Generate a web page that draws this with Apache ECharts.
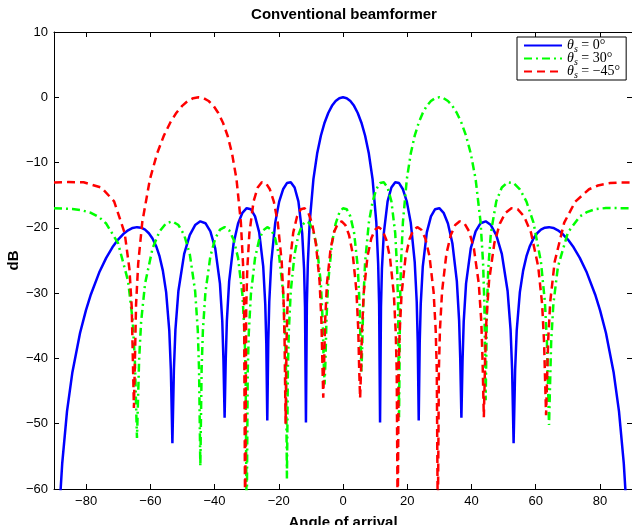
<!DOCTYPE html>
<html>
<head>
<meta charset="utf-8">
<title>Conventional beamformer</title>
<script src="https://cdn.jsdelivr.net/npm/echarts@6/dist/echarts.min.js"></script>
<style>
  html, body { margin: 0; padding: 0; background: #fff; }
  #main { width: 632px; height: 525px; }
</style>
</head>
<body>
<div id="main"></div>
<script>
// tick values
var xTicks = [-80, -60, -40, -20, 0, 20, 40, 60, 80];

// series names (legend)
var seriesNames = ['θs = 0°', 'θs = 30°', 'θs = −45°'];

// [angle (deg), level (dB)]
var steer0 = [
    [-89.00, -72], [-88.19, -62.1], [-87.44, -56.08], [-85.95, -48.12], [-84.27, -42.11], [-81.89, -36.11],
    [-80.06, -32.63], [-78.52, -30.20], [-75.93, -26.85], [-73.74, -24.60], [-71.81, -22.98], [-70.05, -21.80],
    [-68.43, -20.95], [-66.93, -20.37], [-65.51, -20.02], [-64.16, -19.89], [-62.87, -19.98], [-61.64, -20.28],
    [-60.46, -20.82], [-59.32, -21.63], [-58.21, -22.77], [-57.14, -24.34], [-56.10, -26.55], [-55.08, -29.85],
    [-54.10, -35.72], [-53.61, -41.69], [-53.13, -53.0], [-52.66, -41.65], [-52.19, -35.63], [-51.26, -29.67],
    [-49.46, -23.98], [-47.73, -21.10], [-46.05, -19.57], [-44.43, -19.00], [-42.84, -19.29], [-41.30, -20.54],
    [-39.79, -23.15], [-38.32, -28.55], [-37.59, -34.37], [-37.23, -40.31], [-36.87, -49.1], [-36.52, -40.22],
    [-36.16, -34.17], [-35.45, -28.15], [-34.06, -22.35], [-32.68, -19.34], [-31.33, -17.69], [-30.00, -16.99],
    [-28.69, -17.14], [-27.39, -18.25], [-26.10, -20.70], [-24.84, -25.95], [-24.21, -31.68], [-23.89, -37.58],
    [-23.58, -49.5], [-23.27, -37.40], [-22.96, -31.31], [-22.33, -25.20], [-21.10, -19.20], [-19.88, -15.98],
    [-18.66, -14.09], [-17.46, -13.14], [-16.26, -13.02], [-15.07, -13.82], [-13.89, -15.94], [-12.71, -20.80],
    [-12.12, -26.32], [-11.83, -32.11], [-11.54, -49.8], [-11.25, -31.69], [-10.95, -25.48], [-10.37, -19.11],
    [-9.21, -12.53], [-8.05, -8.62], [-6.89, -5.89], [-5.74, -3.89], [-4.59, -2.40], [-3.44, -1.31],
    [-2.29, -0.57], [-1.15, -0.14], [0, 0], [1.15, -0.14], [2.29, -0.57], [3.44, -1.31],
    [4.59, -2.40], [5.74, -3.89], [6.89, -5.89], [8.05, -8.62], [9.21, -12.53], [10.37, -19.11],
    [10.95, -25.48], [11.25, -31.69], [11.54, -49.8], [11.83, -32.11], [12.12, -26.32], [12.71, -20.80],
    [13.89, -15.94], [15.07, -13.82], [16.26, -13.02], [17.46, -13.14], [18.66, -14.09], [19.88, -15.98],
    [21.10, -19.20], [22.33, -25.20], [22.96, -31.31], [23.27, -37.40], [23.58, -49.5], [23.89, -37.58],
    [24.21, -31.68], [24.84, -25.95], [26.10, -20.70], [27.39, -18.25], [28.69, -17.14], [30.00, -16.99],
    [31.33, -17.69], [32.68, -19.34], [34.06, -22.35], [35.45, -28.15], [36.16, -34.17], [36.52, -40.22],
    [36.87, -49.1], [37.23, -40.31], [37.59, -34.37], [38.32, -28.55], [39.79, -23.15], [41.30, -20.54],
    [42.84, -19.29], [44.43, -19.00], [46.05, -19.57], [47.73, -21.10], [49.46, -23.98], [51.26, -29.67],
    [52.19, -35.63], [52.66, -41.65], [53.13, -53.0], [53.61, -41.69], [54.10, -35.72], [55.08, -29.85],
    [56.10, -26.55], [57.14, -24.34], [58.21, -22.77], [59.32, -21.63], [60.46, -20.82], [61.64, -20.28],
    [62.87, -19.98], [64.16, -19.89], [65.51, -20.02], [66.93, -20.37], [68.43, -20.95], [70.05, -21.80],
    [71.81, -22.98], [73.74, -24.60], [75.93, -26.85], [78.52, -30.20], [80.06, -32.63], [81.89, -36.11],
    [84.27, -42.11], [85.95, -48.12], [87.44, -56.08], [88.19, -62.1], [89.00, -72]
];

var steer30 = [
    [-90, -16.99], [-84.27, -17.12], [-81.89, -17.25], [-78.52, -17.69], [-75.93, -18.38], [-73.74, -19.34],
    [-70.05, -22.35], [-66.93, -28.15], [-65.51, -34.17], [-64.82, -40.22], [-64.16, -52.2], [-63.50, -40.31],
    [-62.87, -34.37], [-61.64, -28.55], [-59.32, -23.15], [-57.14, -20.54], [-55.08, -19.29], [-53.13, -19.00],
    [-51.26, -19.57], [-49.46, -21.10], [-47.73, -23.98], [-46.05, -29.67], [-45.23, -35.63], [-44.83, -41.65],
    [-44.43, -56.5], [-44.03, -41.69], [-43.63, -35.72], [-42.84, -29.85], [-41.30, -24.34], [-39.79, -21.63],
    [-38.32, -20.28], [-36.87, -19.89], [-35.45, -20.37], [-34.06, -21.80], [-32.68, -24.60], [-31.33, -30.20],
    [-30.66, -36.11], [-30.33, -42.11], [-30.00, -66], [-29.67, -42.11], [-29.34, -36.11], [-28.69, -30.20],
    [-27.39, -24.60], [-26.10, -21.80], [-24.84, -20.37], [-23.58, -19.89], [-22.33, -20.28], [-21.10, -21.63],
    [-19.88, -24.34], [-18.66, -29.85], [-18.06, -35.72], [-17.76, -41.69], [-17.46, -58.4], [-17.16, -41.65],
    [-16.86, -35.63], [-16.26, -29.67], [-15.07, -23.98], [-13.89, -21.10], [-12.71, -19.57], [-11.54, -19.00],
    [-10.37, -19.29], [-9.21, -20.54], [-8.05, -23.15], [-6.89, -28.55], [-6.32, -34.37], [-6.03, -40.31],
    [-5.74, -44], [-5.45, -40.22], [-5.16, -34.17], [-4.59, -28.15], [-3.44, -22.35], [-2.29, -19.34],
    [-1.15, -17.69], [0, -16.99], [1.15, -17.14], [2.29, -18.25], [3.44, -20.70], [4.59, -25.95],
    [5.16, -31.68], [5.45, -37.58], [5.74, -42], [6.03, -37.40], [6.32, -31.31], [6.89, -25.20],
    [8.05, -19.20], [9.21, -15.98], [10.37, -14.09], [11.54, -13.14], [12.71, -13.02], [13.89, -13.82],
    [15.07, -15.94], [16.26, -20.80], [16.86, -26.32], [17.16, -32.11], [17.46, -49], [17.76, -31.69],
    [18.06, -25.48], [18.66, -19.11], [19.88, -12.53], [21.10, -8.62], [22.33, -5.89], [23.58, -3.89],
    [24.84, -2.40], [26.10, -1.31], [27.39, -0.57], [28.69, -0.14], [30.00, 0], [31.33, -0.14],
    [32.68, -0.57], [34.06, -1.31], [35.45, -2.40], [36.87, -3.89], [38.32, -5.89], [39.79, -8.62],
    [41.30, -12.53], [42.84, -19.11], [43.63, -25.48], [44.03, -31.69], [44.43, -46.4], [44.83, -32.11],
    [45.23, -26.32], [46.05, -20.80], [47.73, -15.94], [49.46, -13.82], [51.26, -13.02], [53.13, -13.14],
    [55.08, -14.09], [57.14, -15.98], [59.32, -19.20], [61.64, -25.20], [62.87, -31.31], [63.50, -37.40],
    [64.16, -50.2], [64.82, -37.58], [65.51, -31.68], [66.93, -25.95], [70.05, -20.70], [73.74, -18.25],
    [75.93, -17.60], [78.52, -17.14], [81.89, -16.96], [84.27, -16.97], [90, -16.99]
];

var steerM45 = [
    [-90, -13.06], [-85.64, -12.99], [-80.79, -13.02], [-75.26, -13.82], [-71.28, -15.94], [-67.99, -20.80],
    [-66.51, -26.32], [-65.80, -32.11], [-65.11, -47.6], [-64.44, -31.69], [-63.78, -25.48], [-62.51, -19.11],
    [-60.12, -12.53], [-57.90, -8.62], [-55.80, -5.89], [-53.81, -3.89], [-51.92, -2.40], [-50.09, -1.31],
    [-48.34, -0.57], [-46.64, -0.14], [-45.00, 0], [-43.40, -0.14], [-41.85, -0.57], [-40.32, -1.31],
    [-38.84, -2.40], [-37.38, -3.89], [-35.94, -5.89], [-34.55, -8.62], [-33.17, -12.53], [-31.81, -19.11],
    [-31.14, -25.48], [-30.81, -31.69], [-30.47, -66], [-30.14, -32.11], [-29.81, -26.32], [-29.15, -20.80],
    [-27.85, -15.94], [-26.56, -13.82], [-25.29, -13.02], [-24.02, -13.14], [-22.78, -14.09], [-21.54, -15.98],
    [-20.31, -19.20], [-19.09, -25.20], [-18.49, -31.31], [-18.19, -37.40], [-17.88, -50], [-17.59, -37.58],
    [-17.28, -31.68], [-16.69, -25.95], [-15.49, -20.70], [-14.31, -18.25], [-13.13, -17.14], [-11.95, -16.99],
    [-10.78, -17.69], [-9.62, -19.34], [-8.46, -22.35], [-7.30, -28.15], [-6.73, -34.17], [-6.44, -40.22],
    [-6.15, -46], [-5.86, -40.31], [-5.57, -34.37], [-5.00, -28.55], [-3.85, -23.15], [-2.70, -20.54],
    [-1.55, -19.29], [-0.41, -19.00], [0.74, -19.57], [1.88, -21.10], [3.03, -23.98], [4.18, -29.67],
    [4.76, -35.63], [5.04, -41.65], [5.33, -46.1], [5.62, -41.69], [5.91, -35.72], [6.48, -29.85],
    [7.64, -24.34], [8.80, -21.63], [9.96, -20.28], [11.12, -19.89], [12.29, -20.37], [13.47, -21.80],
    [14.65, -24.60], [15.84, -30.20], [16.43, -36.11], [16.73, -42.11], [17.03, -66], [17.33, -42.11],
    [17.63, -36.11], [18.23, -30.20], [19.45, -24.60], [20.66, -21.80], [21.89, -20.37], [23.13, -19.89],
    [24.39, -20.28], [25.65, -21.63], [26.93, -24.34], [28.22, -29.85], [28.87, -35.72], [29.20, -41.69],
    [29.53, -66], [29.86, -41.65], [30.19, -35.63], [30.86, -29.67], [32.20, -23.98], [33.57, -21.10],
    [34.95, -19.57], [36.36, -19.00], [37.80, -19.29], [39.27, -20.54], [40.76, -23.15], [42.29, -28.55],
    [43.07, -34.37], [43.46, -40.31], [43.86, -49], [44.26, -40.22], [44.66, -34.17], [45.48, -28.15],
    [47.13, -22.35], [48.84, -19.34], [50.61, -17.69], [52.45, -16.99], [54.38, -17.14], [56.39, -18.25],
    [58.54, -20.70], [60.80, -25.95], [62.01, -31.68], [62.62, -37.58], [63.24, -48.7], [63.88, -37.40],
    [64.54, -31.31], [65.92, -25.20], [68.89, -19.20], [72.33, -15.98], [76.62, -14.09], [79.40, -13.51],
    [83.16, -13.14], [86.28, -13.04], [90, -13.06]
];

var sans = '"Liberation Sans", Arial, Helvetica, sans-serif';
var serif = '"Liberation Serif", "DejaVu Serif", serif';

function minusFmt(v) {
    return v < 0 ? '\u2212' + (-v) : String(v);
}

var myChart = echarts.init(document.getElementById('main'), null, { renderer: 'canvas' });

var option = {
    animation: false,
    backgroundColor: '#fff',
    title: {
        text: 'Conventional beamformer',
        left: 344,
        top: 7,
        padding: 0,
        textAlign: 'center',
        textStyle: { fontFamily: sans, fontSize: 15, fontWeight: 'bold', color: '#000' }
    },
    legend: {
        orient: 'vertical',
        left: 517,
        top: 37,
        padding: [0, 6, 0, 6],
        itemGap: -4,
        itemWidth: 38,
        itemHeight: 11,
        backgroundColor: '#fff',
        borderColor: '#000',
        borderWidth: 1,
        borderRadius: 0,
        data: seriesNames,
        // hide the marker dot, keep the styled line sample
        itemStyle: { color: 'rgba(0,0,0,0)', borderWidth: 0 },
        formatter: function (name) {
            return '{th|θ}{sub|s}{eq|' + name.slice(2) + '}';
        },
        textStyle: {
            color: '#000',
            rich: {
                th: { fontFamily: serif, fontStyle: 'italic', fontSize: 14, lineHeight: 13, color: '#000' },
                sub: { fontFamily: serif, fontStyle: 'italic', fontSize: 10, lineHeight: 13, color: '#000', padding: [7, 0, 0, 0] },
                eq: { fontFamily: serif, fontSize: 14, lineHeight: 13, color: '#000' }
            }
        }
    },
    // fixed plot box, no auto shrink for names/labels
    grid: { left: 54, right: 0, top: 32, bottom: 36, outerBoundsMode: 'none', containLabel: false },
    xAxis: [{
        type: 'value',
        min: -90,
        max: 90,
        name: 'Angle of arrival',
        nameLocation: 'middle',
        nameGap: 26,
        nameMoveOverlap: false,
        nameTextStyle: { fontFamily: sans, fontSize: 15, fontWeight: 'bold', color: '#000' },
        axisLine: { onZero: false, lineStyle: { color: '#000', width: 1 } },
        axisTick: { inside: true, length: 5, customValues: xTicks, lineStyle: { color: '#000' } },
        axisLabel: { customValues: xTicks, margin: 6, formatter: minusFmt, fontFamily: sans, fontSize: 13, color: '#000' },
        splitLine: { show: false }
    }, {
        type: 'value',
        position: 'top',
        min: -90,
        max: 90,
        axisLine: { onZero: false, lineStyle: { color: '#000', width: 1 } },
        axisTick: { inside: true, length: 5, customValues: xTicks, lineStyle: { color: '#000' } },
        axisLabel: { show: false },
        splitLine: { show: false }
    }],
    yAxis: [{
        type: 'value',
        min: -60,
        max: 10,
        interval: 10,
        name: 'dB',
        nameLocation: 'middle',
        nameGap: 33,
        nameMoveOverlap: false,
        nameTextStyle: { fontFamily: sans, fontSize: 15, fontWeight: 'bold', color: '#000' },
        axisLine: { show: true, onZero: false, lineStyle: { color: '#000', width: 1 } },
        axisTick: { show: true, inside: true, length: 5, lineStyle: { color: '#000' } },
        axisLabel: { margin: 6, formatter: minusFmt, fontFamily: sans, fontSize: 13, color: '#000' },
        splitLine: { show: false }
    }, {
        type: 'value',
        position: 'right',
        min: -60,
        max: 10,
        interval: 10,
        axisLine: { show: true, onZero: false, lineStyle: { color: '#000', width: 1 } },
        axisTick: { show: true, inside: true, length: 5, lineStyle: { color: '#000' } },
        axisLabel: { show: false },
        splitLine: { show: false }
    }],
    series: [{
        name: seriesNames[0],
        type: 'line',
        data: steer0,
        showSymbol: false,
        symbol: 'none',
        clip: true,
        lineStyle: { color: '#0000ff', width: 2.5, type: 'solid' },
        itemStyle: { color: '#0000ff' }
    }, {
        name: seriesNames[1],
        type: 'line',
        data: steer30,
        showSymbol: false,
        symbol: 'none',
        clip: true,
        lineStyle: { color: '#00ff00', width: 2.5, type: [8, 4, 2, 4] },
        itemStyle: { color: '#00ff00' }
    }, {
        name: seriesNames[2],
        type: 'line',
        data: steerM45,
        showSymbol: false,
        symbol: 'none',
        clip: true,
        lineStyle: { color: '#ff0000', width: 2.5, type: [8, 5] },
        itemStyle: { color: '#ff0000' }
    }]
};

myChart.setOption(option);
</script>
</body>
</html>
